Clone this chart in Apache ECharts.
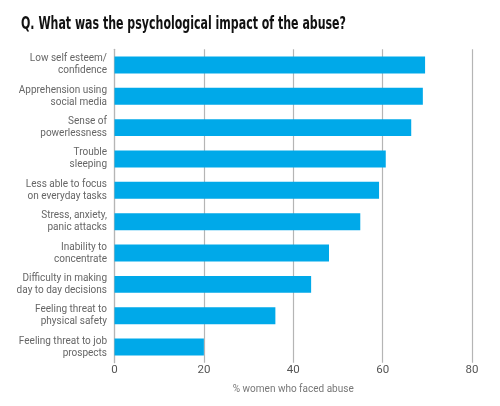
<!DOCTYPE html>
<html><head><meta charset="utf-8">
<script src="https://cdn.jsdelivr.net/npm/echarts@6/dist/echarts.min.js"></script>
<style>html,body{margin:0;padding:0;background:#fff}#c{width:500px;height:406px}</style>
</head><body><div id="c"></div>
<script>
var categories = [
  "Low self esteem/\nconfidence",
  "Apprehension using\nsocial media",
  "Sense of\npowerlessness",
  "Trouble\nsleeping",
  "Less able to focus\non everyday tasks",
  "Stress, anxiety,\npanic attacks",
  "Inability to\nconcentrate",
  "Difficulty in making\nday to day decisions",
  "Feeling threat to\nphysical safety",
  "Feeling threat to job\nprospects"
];
var values = [69.5, 69, 66.4, 60.7, 59.2, 55, 48, 44, 36, 20];
var xTicks = [0, 20, 40, 60, 80];
var titleText = "Q. What was the psychological impact of the abuse?";
var xName = "% women who faced abuse";

var lab = "Roboto, 'Liberation Sans', sans-serif";
var chart = echarts.init(document.getElementById('c'));
chart.setOption({
  animation: false,
  graphic: [{
    type: 'text', x: 21, y: 24, scaleX: 0.70, silent: true,
    style: {
      text: titleText, fill: '#111',
      font: "bold 17.5px 'DejaVu Sans Condensed', 'DejaVu Sans', sans-serif",
      verticalAlign: 'middle', align: 'left'
    }
  }],
  grid: { left: 114.5, right: 28, top: 49.3, bottom: 43.3, containLabel: false },
  xAxis: {
    type: 'value', min: xTicks[0], max: xTicks[xTicks.length - 1], interval: 20,
    name: xName, nameLocation: 'middle', nameGap: 22,
    nameTextStyle: { fontFamily: lab, fontSize: 10, color: '#777' },
    axisLine: { show: false }, axisTick: { show: false },
    axisLabel: { fontFamily: lab, fontSize: 11.5, color: '#555', margin: 1 },
    splitLine: { show: true, lineStyle: { color: '#b5b5b5', width: 1.2 } }
  },
  yAxis: {
    type: 'category', data: categories, inverse: true,
    axisLine: { show: true, lineStyle: { color: '#b5b5b5', width: 1.2 } },
    axisTick: { show: false },
    axisLabel: { fontFamily: lab, fontSize: 10, color: '#666', margin: 7.5, lineHeight: 12, align: 'right' }
  },
  series: [{
    type: 'bar', data: values, barCategoryGap: '46%',
    itemStyle: { color: '#00a9e9' }
  }]
});
</script></body></html>
